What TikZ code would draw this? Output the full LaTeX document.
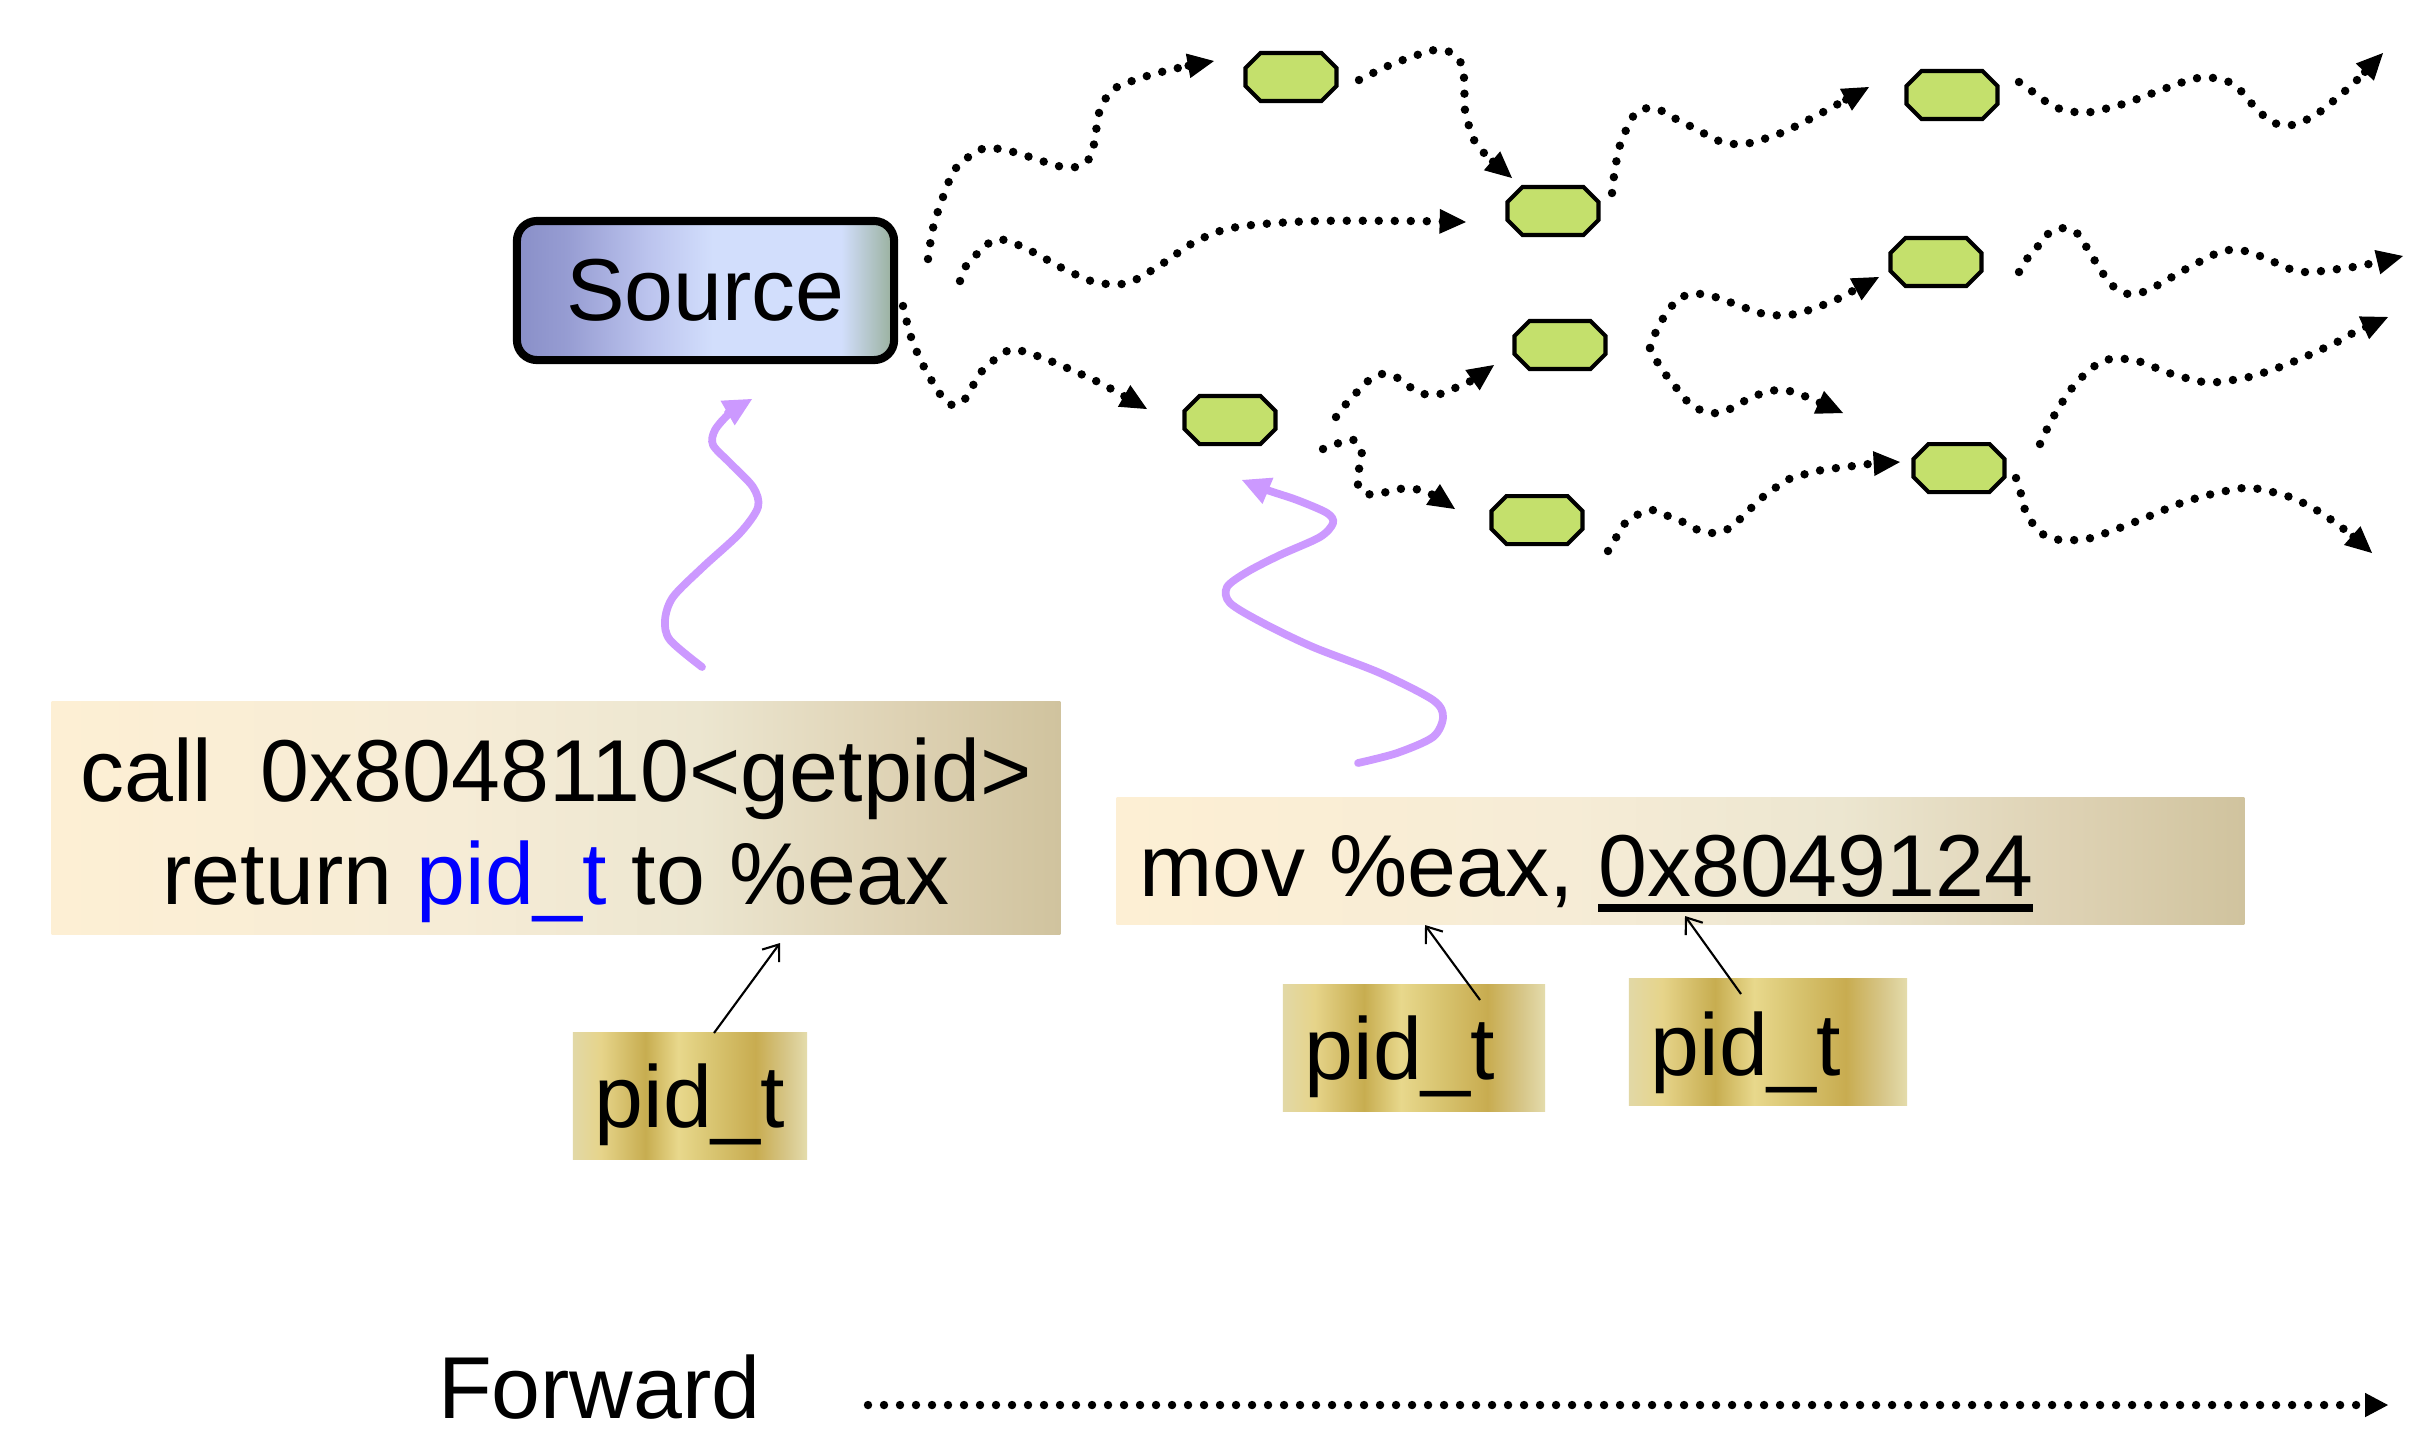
\documentclass[tikz,border=0pt]{standalone}
\usepackage{fontspec}
\setmainfont{Liberation Sans}
\usetikzlibrary{arrows.meta,calc}
\definecolor{octgreen}{RGB}{196,224,108}
\definecolor{purp}{RGB}{204,153,255}
\definecolor{pidblue}{RGB}{0,0,255}
\definecolor{s0}{RGB}{137,143,200}
\definecolor{s1}{RGB}{150,156,210}
\definecolor{s2}{RGB}{188,196,238}
\definecolor{s3}{RGB}{210,222,252}
\definecolor{s4}{RGB}{152,176,156}
\definecolor{c0}{RGB}{253,239,212}
\definecolor{c1}{RGB}{246,236,214}
\definecolor{c2}{RGB}{236,230,208}
\definecolor{c3}{RGB}{222,210,180}
\definecolor{c4}{RGB}{208,195,158}
\definecolor{g0}{RGB}{226,216,166}
\definecolor{g1}{RGB}{230,212,138}
\definecolor{g2}{RGB}{199,173,80}
\definecolor{g3}{RGB}{232,216,140}
\definecolor{g4}{RGB}{216,196,112}
\definecolor{g5}{RGB}{200,172,80}
\definecolor{g6}{RGB}{216,200,140}
\definecolor{g7}{RGB}{228,220,172}
\pgfdeclarehorizontalshading{srcshade}{100bp}{color(0bp)=(s0); color(25bp)=(s0); color(31.5bp)=(s1); color(42.5bp)=(s2); color(51bp)=(s3); color(68bp)=(s3); color(75bp)=(s4); color(100bp)=(s4)}
\pgfdeclarehorizontalshading{callshade}{100bp}{color(0bp)=(c0); color(25bp)=(c0); color(45bp)=(c1); color(57bp)=(c2); color(67bp)=(c3); color(75bp)=(c4); color(100bp)=(c4)}
\pgfdeclarehorizontalshading{goldshade}{100bp}{color(0bp)=(g0); color(25bp)=(g0); color(31bp)=(g1); color(40.5bp)=(g2); color(47.5bp)=(g3); color(55bp)=(g4); color(64bp)=(g5); color(71bp)=(g6); color(75bp)=(g7); color(100bp)=(g7)}
\newcommand\myul[1]{\setbox0=\hbox{#1}\rlap{\rule[-4.4pt]{\wd0}{2pt}}\box0}
\begin{document}
\begin{tikzpicture}[x=0.01cm,y=-0.01cm,
  every node/.style={font=\fontsize{25}{30}\selectfont, inner sep=0pt, outer sep=0pt},
  dots/.style={line width=2.4pt, line cap=round, dash pattern=on 0pt off 4.55pt, -{Triangle[length=7.5pt,width=7pt,line width=0.4pt]}},
  purpline/.style={draw=purp, line width=2.2pt, line cap=round, -{Triangle[length=8pt,width=8pt,line width=0.4pt]}},
  octbox/.style={minimum width=0.91cm, minimum height=0.48cm},
  oct/.style={fill=octgreen, draw=black, line width=1.15pt, line join=miter},
  ptr/.style={draw=black, line width=0.6pt, -{Straight Barb[length=4pt,width=6pt]}},
  srcbox/.style={draw=black, line width=2.3pt, rounded corners=0.2cm, shade, shading=srcshade, minimum width=3.77cm, minimum height=1.39cm},
  instrbox/.style={shade, shading=callshade},
  goldbox/.style={shade, shading=goldshade, minimum height=1.26cm}
]
\useasboundingbox (0,0) rectangle (2410,1441);
\fill[white] (0,0) rectangle (2410,1441);

% Source
\node[srcbox] (src) at (705.5,290.5) {Source};

% octagons
\foreach \n/\cx/\cy in {A/1291/77,B/1553/211,C/1952/95,D/1936/262,E/1560/345,F/1230/420,G/1959/468,H/1537/520}{
  \node[octbox] (\n) at (\cx,\cy) {};
  \filldraw[oct] ($(\n.west)+(0,-9)$) -- ++(15,-15) -- ++(61,0) -- ++(15,15) -- ++(0,18) -- ++(-15,15) -- ++(-61,0) -- ++(-15,-15) -- cycle;
}

% free ends of the dotted connectors
\coordinate (t1) at (1214,61);
\coordinate (t2) at (1466,222);
\coordinate (t3) at (1147,409);
\coordinate (t4) at (1512,178);
\coordinate (t5) at (1869,87);
\coordinate (t6) at (2383,53);
\coordinate (t7) at (1494,365);
\coordinate (t8) at (1455,509);
\coordinate (t9) at (1879,277);
\coordinate (t10) at (1843,413);
\coordinate (t11) at (2403,256);
\coordinate (t12) at (1900,462);
\coordinate (t13) at (2388,317);
\coordinate (t14) at (2372,553);
\coordinate (ej) at (1650,348);

% Source -> A
\draw[dots] plot[smooth] coordinates {(928,259) (933,228) (943,197) (956,168) (982,149) (1005,150) (1030,157) (1058,166) (1076,167) (1089,159) (1094,144) (1099,113) (1106,98) (1117,87) (1147,76) (1178,68) (t1)};
% Source -> B
\draw[dots] plot[smooth] coordinates {(960,281) (966,266) (989,243) (1005,240) (1033,252) (1062,268) (1091,281) (1107,284) (1122,284) (1137,279) (1165,262) (1191,244) (1220,231) (1252,225) (1316,221) (1410,221) (t2)};
% Source -> F
\draw[dots] plot[smooth] coordinates {(903,306) (911,337) (923,365) (940,394) (952,405) (965,399) (982,371) (1007,351) (1022,351) (1053,362) (1096,381) (1124,396) (t3)};
% A -> B
\draw[dots] plot[smooth] coordinates {(1359,80) (1390,65) (1420,54) (1435,50) (1450,52) (1461,63) (1464,78) (1465,111) (1469,126) (1475,142) (1486,155) (t4)};
% B -> C
\draw[dots] plot[smooth] coordinates {(1612,193) (1614,176) (1620,145) (1634,115) (1648,108) (1662,111) (1676,119) (1690,126) (1719,141) (1734,144) (1750,143) (1781,133) (1810,119) (1838,104) (t5)};
% C -> out
\draw[dots] plot[smooth] coordinates {(2019,82) (2033,92) (2045,101) (2060,109) (2075,112) (2091,112) (2123,104) (2153,93) (2183,82) (2198,78) (2214,78) (2229,82) (2242,92) (2252,104) (2264,116) (2277,124) (2292,125) (2308,119) (2321,111) (2345,91) (2357,80) (t6)};
% F -> E
\draw[dots] plot[smooth] coordinates {(1336,417) (1346,404) (1357,392) (1368,381) (1382,374) (1396,377) (1410,387) (1424,394) (1440,394) (1455,388) (1469,382) (t7)};
% F -> H
\draw[dots] plot[smooth] coordinates {(1323,449) (1339,443) (1354,440) (1362,454) (1359,469) (1358,485) (1367,494) (1382,493) (1399,489) (1415,489) (1431,494) (t8)};
% E -> D
\draw[dots] plot[smooth] coordinates {(ej) (1659,325) (1677,300) (1693,294) (1708,295) (1724,300) (1754,311) (1769,315) (1785,315) (1800,313) (1831,302) (1845,295) (t9)};
% E -> down
\draw[dots] plot[smooth] coordinates {(ej) (1659,365) (1669,379) (1679,391) (1689,403) (1703,411) (1719,413) (1734,407) (1748,399) (1763,393) (1778,390) (1794,392) (1809,398) (t10)};
% D -> out
\draw[dots] plot[smooth] coordinates {(2019,272) (2029,256) (2039,245) (2049,233) (2064,228) (2078,234) (2087,248) (2095,261) (2104,275) (2114,287) (2128,294) (2143,292) (2158,285) (2186,269) (2215,254) (2229,250) (2245,251) (2260,256) (2274,262) (2290,269) (2305,272) (2322,271) (2353,267) (2369,264) (t11)};
% H -> G
\draw[dots] plot[smooth] coordinates {(1608,551) (1617,536) (1626,522) (1639,514) (1654,510) (1668,516) (1683,522) (1698,530) (1713,533) (1728,529) (1740,519) (1764,496) (1791,478) (1806,474) (1822,470) (1853,466) (1869,464) (t12)};
% G -> up right
\draw[dots] plot[smooth] coordinates {(2040,444) (2047,429) (2055,414) (2063,401) (2072,388) (2083,376) (2096,365) (2110,359) (2126,359) (2141,362) (2172,374) (2203,382) (2218,382) (2249,377) (2280,367) (2309,355) (2339,341) (2353,333) (t13)};
% G -> down right
\draw[dots] plot[smooth] coordinates {(2016,478) (2021,494) (2025,510) (2033,524) (2044,535) (2060,540) (2075,540) (2091,538) (2122,527) (2152,515) (2181,503) (2212,494) (2243,488) (2259,489) (2290,497) (2318,511) (2345,530) (t14)};

% instruction boxes
\node[instrbox, minimum width=10.08cm, minimum height=2.32cm] (call) at (556,818) {};
\node[anchor=base] (callA) at (556,801) {call~~0x8048110<getpid>};
\node[anchor=base] (callB) at (556,904) {return \textcolor{pidblue}{pid\_t} to \%eax};

\node[instrbox, minimum width=11.27cm, minimum height=1.26cm] (mov) at (1680.5,861) {};
\node[anchor=base west] (movtxt) at (1139,896) {mov \%eax, \myul{0x8049124}};

% pid_t boxes
\node[goldbox, minimum width=2.34cm] (pidA) at (690,1096) {};
\node[anchor=base] at (690,1127) {pid\_t};
\node[goldbox, minimum width=2.62cm] (pidB) at (1414,1048) {};
\node[anchor=base] at (1400,1079) {pid\_t};
\node[goldbox, minimum width=2.78cm] (pidC) at (1768,1042) {};
\node[anchor=base] at (1746,1075) {pid\_t};

\coordinate (pa) at (780,943);
\coordinate (pb) at (1425,925);
\coordinate (pc) at (1685,916);
\draw[ptr] ($(pidA.north)+(24,0)$) -- (pa);
\draw[ptr] ($(pidB.north)+(66,15)$) -- (pb);
\draw[ptr] ($(pidC.north)+(-27,15)$) -- (pc);

% purple arrows
\coordinate (u1) at (752,399);
\coordinate (u2) at (1242,480);
\draw[purpline] plot[smooth] coordinates {(702,667) (670,640) (665,620) (673,597) (703,567) (740,533) (758,507) (753,487) (730,463) (713,445) (715,430) (730,413) (u1)};
\draw[purpline] plot[smooth] coordinates {(1358,763) (1397,753) (1433,737) (1443,717) (1433,700) (1380,673) (1313,647) (1263,623) (1230,603) (1227,587) (1247,572) (1280,555) (1320,537) (1333,523) (1327,513) (1297,500) (1267,490) (u2)};

% Forward
\node[anchor=base west] (fwd) at (438,1418) {Forward};
\coordinate (fs) at (868,1405);
\coordinate (fe) at (2388,1405);
\draw[dots, -{Triangle[length=6.5pt,width=6.8pt,line width=0.4pt]}] (fs) -- (fe);
\end{tikzpicture}
\end{document}
